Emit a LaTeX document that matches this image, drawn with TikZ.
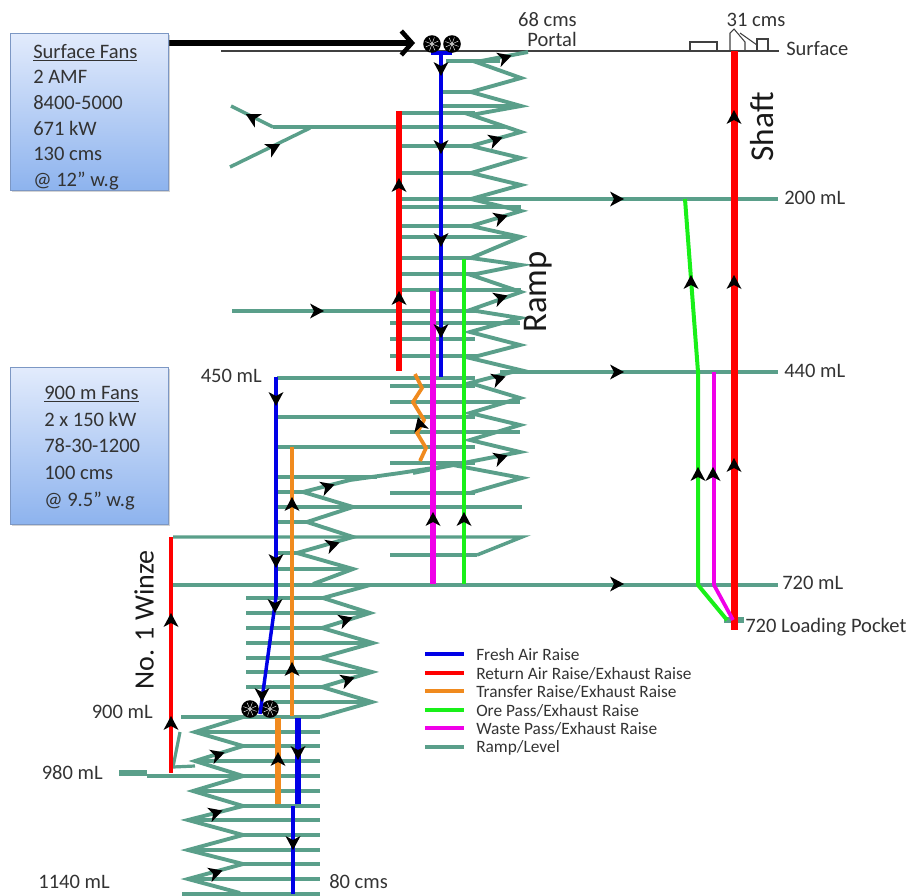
\documentclass[tikz,border=0pt]{standalone}
\usepackage{fontspec}
\setmainfont{Carlito}
\usetikzlibrary{shadows,arrows.meta}

\definecolor{rampteal}{HTML}{5A9F8A}
\definecolor{raiseblue}{HTML}{0000E6}
\definecolor{raisered}{HTML}{FF0000}
\definecolor{raiseorange}{HTML}{F08A1E}
\definecolor{raisegreen}{HTML}{19F019}
\definecolor{raisepink}{HTML}{F000E8}
\definecolor{inktext}{HTML}{333333}
\definecolor{boxtop}{HTML}{E2EBFC}
\definecolor{boxbottom}{HTML}{8DB3EE}
\definecolor{boxedge}{HTML}{7C97C4}

\tikzset{
  levelline/.style={rampteal,line width=2.6pt},
  zigline/.style={rampteal,line width=2.9pt,line join=miter},
  fanbox/.style={draw=boxedge,line width=.6pt,top color=boxtop,bottom color=boxbottom,
    drop shadow={shadow xshift=1pt,shadow yshift=-1.5pt,opacity=.35},anchor=north west,
    minimum width=118.5pt,minimum height=117.75pt},
  fantext/.style={text=inktext,inner sep=0pt,anchor=north west,align=left,font=\fontsize{15.4}{19.2}\selectfont},
  lab/.style={text=inktext,inner sep=0pt,font=\fontsize{15.4}{17}\selectfont},
  biglab/.style={text=black!90,inner sep=0pt,rotate=90},
  keylab/.style={text=inktext,inner sep=0pt,anchor=west,font=\fontsize{13}{14}\selectfont},
}

\newcommand{\flowtip}[3]{\fill[black,shift={(#1,#2)},rotate=#3] (8,0) -- (-6,7.5) -- (-2,0) -- (-6,-7.5) -- cycle;}
\newcommand{\fanmark}[2]{
  \fill[black] (#1,#2) circle[radius=8.8];
  \foreach \a in {0,45,...,315} \draw[white,line width=.3pt] (#1,#2) -- ++(\a+20:7);
}

\begin{document}
\begin{tikzpicture}[x=.75pt,y=-.75pt]
  \useasboundingbox (0,0) rectangle (914,896);

  % surface
  \draw[black!75,line width=.9pt] (221,51) -- (779,51);
  \draw[black!75,line width=.8pt] (690,51) -- (690,42) -- (717,42) -- (717,51);
  \draw[black!75,line width=.8pt] (730,51) -- (730,33) -- (734,29) -- (745,42) -- (745,51);
  \draw[black!75,line width=.8pt] (740,33) -- (757,45);
  \draw[black!75,line width=.8pt] (757,51) -- (757,39) -- (768,39) -- (768,51);

  % levels of the upper ramp
  \foreach \y/\a/\b in {61/446/500,92/443/475,106/443/521,113/402/475,127/273/505,146/402/475,173/402/475,
    199/402/778,207/402/521,226/402/475,237/402/521,258/402/475,274/402/475,290/400/521,311/232/475,323/390/520,339/390/475,
    356/390/477,372/500/778,378/277/475,386/390/475,402/390/520,417/277/475,432/390/520,447/277/475,463/390/475,
    493/390/475,507/278/522,555/390/477} {
    \draw[levelline] (\a,\y) -- (\b,\y);
  }
  \draw[levelline] (173,537) -- (522,537) -- (477,555);
  \draw[levelline] (173,585) -- (778,585);

  % levels of the lower ramp
  \foreach \y/\a/\b in {477/278/377,492/278/303,522/278/307,553/278/297,569/278/353,598/246/323,613/246/370,628/246/322,
    643/246/373,658/246/320,672/246/372,687/246/322,702/273/372,717/181/320,732/195/320,746/243/320,761/195/320,
    776/147/320,791/193/320,806/243/320,820/188/320,835/243/320,850/188/320,864/243/320,879/188/320,894/182/320} {
    \draw[levelline] (\a,\y) -- (\b,\y);
  }
  \draw[rampteal,line width=5pt] (119,773) -- (147,773);
  \draw[rampteal,line width=4pt] (724,620) -- (744,620);

  % ramp zigzags
  \draw[zigline] (528,52) -- (476,62) -- (521,78) -- (471,92) -- (521,106) -- (471,115) -- (521,132) -- (471,146)
    -- (521,158) -- (471,173) -- (521,185) -- (471,199) -- (521,211) -- (471,226) -- (521,237) -- (471,258)
    -- (521,265) -- (471,275) -- (521,292) -- (470,310) -- (520,318) -- (470,332) -- (520,345) -- (470,358)
    -- (520,370) -- (470,383) -- (520,398) -- (470,413) -- (520,425) -- (470,440) -- (520,452) -- (453,465)
    -- (400,473) -- (350,480) -- (303,492) -- (353,507) -- (307,522) -- (353,537) -- (297,553) -- (353,569)
    -- (313,584);
  \draw[zigline] (413,473) -- (453,465) -- (522,478) -- (470,493);
  \draw[zigline] (370,585) -- (323,598) -- (370,613) -- (322,628) -- (373,643) -- (320,658) -- (372,672)
    -- (322,687) -- (372,702) -- (320,717);
  \draw[zigline] (243,717) -- (195,732) -- (243,746) -- (195,761) -- (243,776) -- (193,791) -- (243,806)
    -- (188,820) -- (243,835) -- (188,850) -- (243,864) -- (188,879) -- (240,893);
  \draw[rampteal,line width=2.4pt] (180,732) -- (173,767) -- (195,766);
  \draw[levelline] (231,106) -- (273,127);
  \draw[levelline] (230,167) -- (310,128);

  % raises
  \draw[raiseblue,line width=3.6pt] (431,53) -- (452,53);
  \draw[raiseblue,line width=3.6pt] (441,53) -- (441,213);
  \draw[raiseblue,line width=2.8pt] (441,213) -- (441,377);
  \draw[raisered,line width=3.8pt] (399,111) -- (399,371);
  \draw[raisepink,line width=4pt] (433,291) -- (433,584);
  \draw[raisegreen,line width=3pt] (464,259) -- (464,584);
  \draw[raiseorange,line width=2.8pt] (415,374) -- (422,388) -- (413,402) -- (424,420) -- (417,433) -- (426,448) -- (420,461);
  \draw[raiseblue,line width=3pt] (276,377) -- (276,597);
  \draw[raiseblue,line width=2.6pt] (276,597) -- (263,692);
  \draw[raiseorange,line width=3pt] (292,447) -- (292,716);
  \draw[raisered,line width=3.6pt] (171,537) -- (171,773);
  \draw[raiseorange,line width=4pt] (278,718) -- (278,804);
  \draw[raiseblue,line width=4.2pt] (298,718) -- (298,804);
  \draw[raiseblue,line width=3.2pt] (293,806) -- (293,894);
  \draw[raisered,line width=4.6pt] (734.5,51) -- (734.5,630);
  \draw[raisegreen,line width=3pt,line join=round] (685,199) -- (698,372) -- (698,585) -- (727,620);
  \draw[raisepink,line width=2.8pt,line join=round] (714,372) -- (714,585) -- (733,620);

  % fans and intake
  \draw[black,line width=4pt,-{Straight Barb[length=8pt,width=18pt,line width=3.4pt]}] (168,43) -- (415,43);
  \fanmark{432}{44}
  \fanmark{452}{44}
  \fanmark{250}{709}
  \fanmark{270}{709}
  \draw[raiseblue,line width=2.6pt] (263,692) -- (260,714);

  % airflow
  \foreach \x/\y/\r in {316/311/0,616/199/0,616/372/0,616/584/0,
    504/58/18,495/140/18,500/218/18,500/298/18,498/379/18,500/458/18,327/487/18,332/545/18,345/620/18,347/680/18,
    217/755/18,215/813/18,215/873/18,253/118/152,273/148/28,420/425/105,
    441/68/-90,441/146/-90,441/239/-90,441/330/-90,276/398/-90,276/560/-90,275/605/-90,262/694/-90,
    298/752/-90,293/842/-90,
    399/186/90,399/299/90,433/520/90,464/520/90,292/505/90,292/670/90,171/621/90,171/724/90,278/760/90,
    734/118/90,734/283/90,734/466/90,691/283/90,698/475/90,713/475/90} {
    \flowtip{\x}{\y}{\r}
  }

  % boxes
  \node[fanbox] (surfacefans) at (10,33) {};
  \node[fantext] (surfacetext) at (33,44)
    {\underline{Surface Fans}\\2 AMF\\8400-5000\\671 kW\\130 cms\\@ 12” w.g};
  \node[fanbox] (deepfans) at (10,367) {};
  \node[fantext,font=\fontsize{15.4}{20}\selectfont] (deeptext) at (44,386)
    {\underline{900 m Fans}\\2 x 150 kW\\78-30-1200\\100 cms\\@ 9.5” w.g};

  % labels
  \node[lab,anchor=east] (portalflow) at (577,20) {68 cms};
  \node[lab,anchor=east] (portal) at (577,39) {Portal};
  \node[lab] (shaftflow) at (756,20) {31 cms};
  \node[lab,anchor=west] (surface) at (786,49) {Surface};
  \node[lab,anchor=west] (level200) at (784,198) {200 mL};
  \node[lab,anchor=west] (level440) at (784,371) {440 mL};
  \node[lab,anchor=west] (level720) at (782,583) {720 mL};
  \node[lab,anchor=west] (pocket) at (745,627) {720 Loading Pocket};
  \node[lab,anchor=east] (level450) at (262,376) {450 mL};
  \node[lab,anchor=east] (level900) at (153,712) {900 mL};
  \node[lab,anchor=east] (level980) at (103,773) {980 mL};
  \node[lab,anchor=east] (level1140) at (110,882) {1140 mL};
  \node[lab,anchor=west] (bottomflow) at (329,882) {80 cms};
  \node[biglab,font=\fontsize{25}{28}\selectfont] (shaft) at (762,127) {Shaft};
  \node[biglab,font=\fontsize{26}{28}\selectfont] (ramp) at (538,292) {Ramp};
  \node[biglab,font=\fontsize{21}{24}\selectfont] (winze) at (144,620) {No. 1 Winze};

  % legend
  \foreach \y/\c/\t [count=\i] in {654/raiseblue/Fresh Air Raise,673/raisered/Return Air Raise\slash Exhaust Raise,
    691/raiseorange/Transfer Raise\slash Exhaust Raise,710/raisegreen/Ore Pass\slash Exhaust Raise,
    728/raisepink/Waste Pass\slash Exhaust Raise,747/rampteal/Ramp\slash Level} {
    \node[keylab] (key\i) at (476,\y+.5) {\t};
    \draw[\c,line width=3pt] (425,\y) -- (464,\y);
  }
\end{tikzpicture}
\end{document}
